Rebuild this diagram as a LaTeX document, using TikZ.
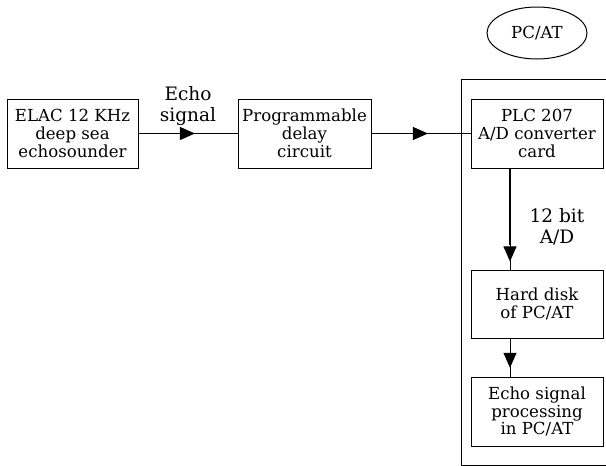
\documentclass[tikz,border=0pt]{standalone}
\usepackage{fontspec}
\setmainfont{DejaVu Serif}
\usetikzlibrary{arrows.meta,decorations.markings,shapes.geometric}

\tikzset{
  blk/.style={draw, line width=1pt, align=center, inner sep=0pt,
    font=\fontsize{16.6}{17.8}\selectfont},
  lbl/.style={align=center, inner sep=0pt,
    font=\fontsize{18.5}{21}\selectfont},
  conn/.style={line width=1pt},
  headat/.style={decoration={markings,
      mark=at position #1 with {\arrow{Triangle[length=15pt,width=13pt]}}},
    postaction=decorate},
}

\begin{document}
\begin{tikzpicture}[x=1pt,y=-1pt]
  \useasboundingbox (0,0) rectangle (606,466);

  % PC/AT enclosure, open to the right
  \draw[line width=1pt] (612,79) -- (461,79) -- (461,465) -- (612,465);
  \node[blk, ellipse, minimum width=100pt, minimum height=52pt] (pc) at (537,33) {PC/AT};

  % blocks
  \node[blk, minimum width=131pt, minimum height=69pt] (elac) at (72.5,133.5)
    {ELAC 12 KHz\\deep sea\\echosounder};
  \node[blk, minimum width=133pt, minimum height=69pt] (prog) at (304.5,133.5)
    {Programmable\\delay\\circuit};
  \node[blk, minimum width=132pt, minimum height=69pt] (plc) at (537,133.5)
    {PLC 207\\A/D converter\\card};
  \node[blk, minimum width=132pt, minimum height=68pt] (hard) at (537,304)
    {Hard disk\\of PC/AT};
  \node[blk, minimum width=132pt, minimum height=69pt] (proc) at (537,411.5)
    {Echo signal\\processing\\in PC/AT};

  % connector labels
  \node[lbl] (echo) at (188,106) {Echo\\signal};
  \node[lbl] (bits) at (557,227) {12 bit\\A/D};

  % connectors
  \draw[conn, headat=0.57] (elac) -- (prog);
  \draw[conn, headat=0.57] (prog) -- (plc);
  \draw[conn, headat=0.92] ([xshift=-27pt]plc.south) -- ([xshift=-27pt]hard.north);
  \draw[line width=2pt, shorten >=25pt] ([xshift=-27pt]plc.south) -- ([xshift=-27pt]hard.north);
  \draw[conn, headat=0.77] ([xshift=-27pt]hard.south) -- ([xshift=-27pt]proc.north);
\end{tikzpicture}
\end{document}
